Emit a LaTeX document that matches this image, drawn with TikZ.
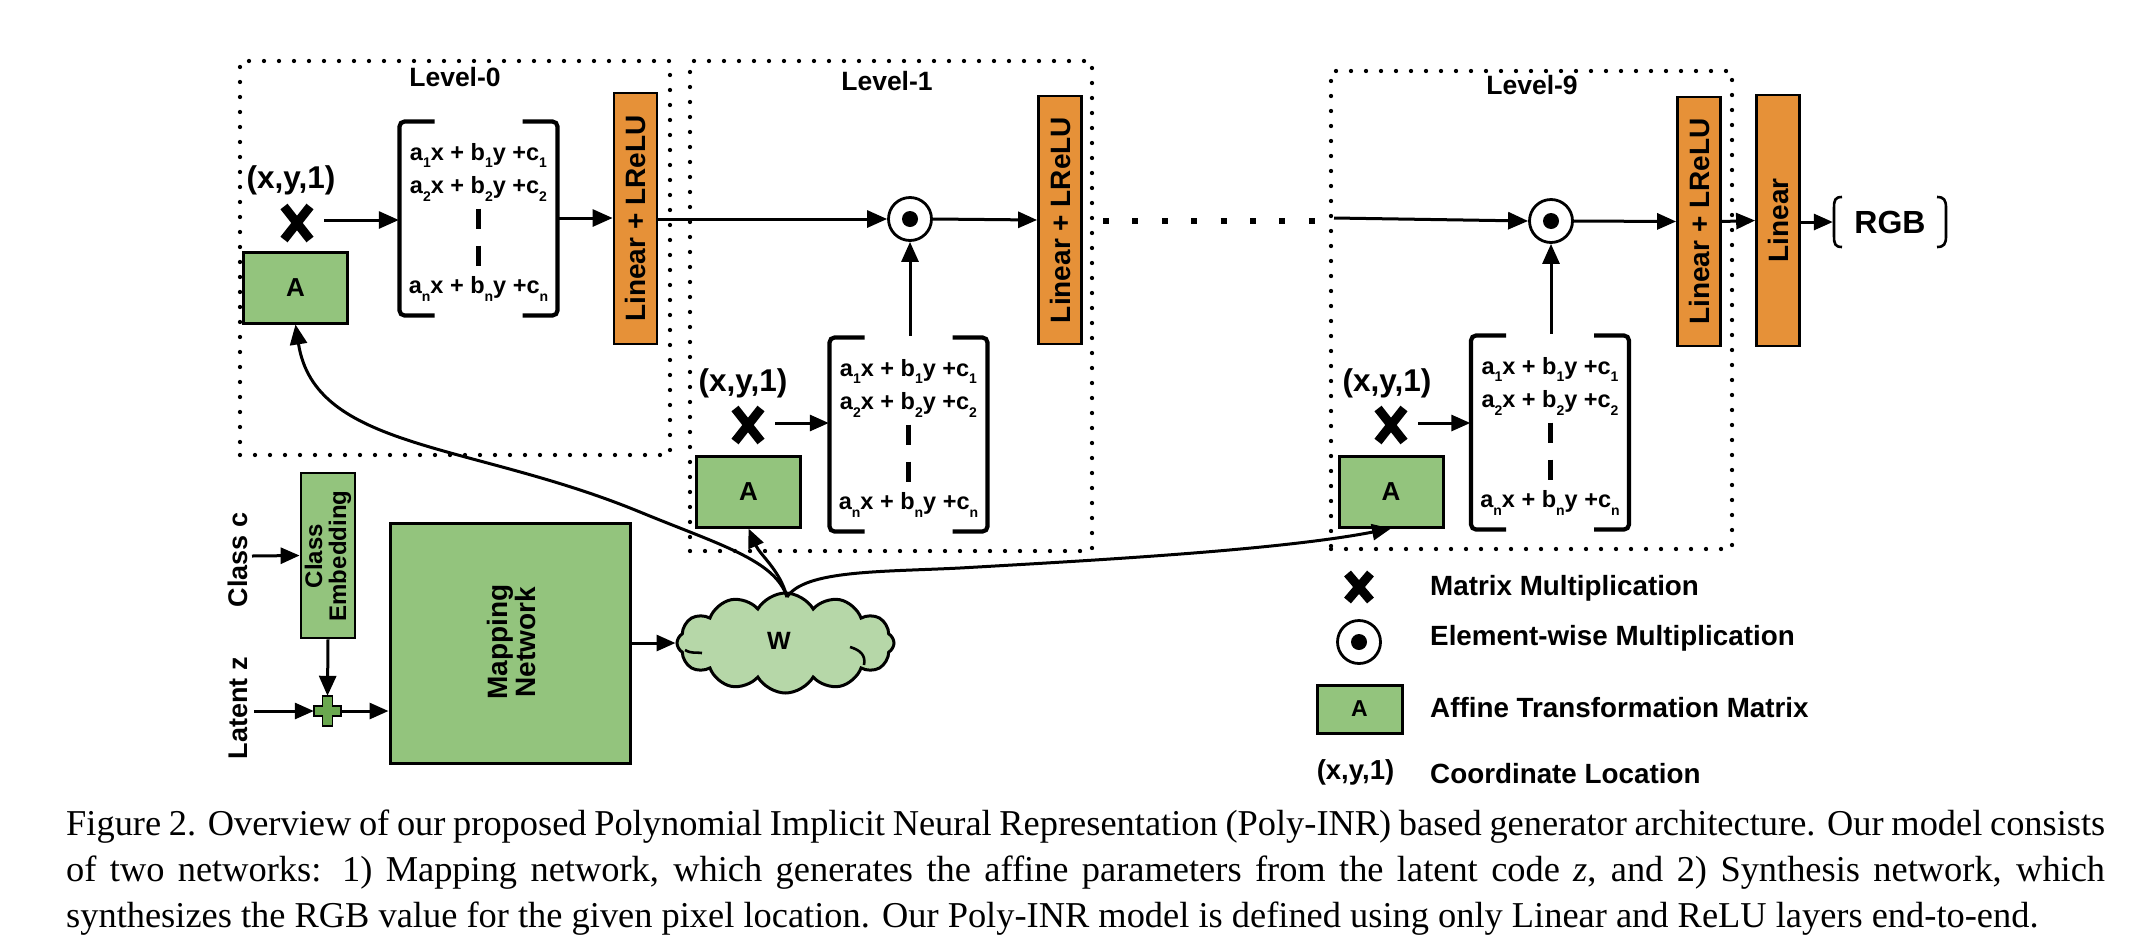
\documentclass[tikz,border=0pt]{standalone}
\usepackage{fontspec}
\setmainfont{Liberation Sans}
\newfontfamily\capfont{Liberation Serif}
\usetikzlibrary{arrows.meta,shapes.misc,shapes.symbols,calc}
\definecolor{gr}{HTML}{93C47D}
\definecolor{org}{HTML}{E69138}
\definecolor{lgr}{HTML}{B6D7A8}
\definecolor{dgr}{HTML}{6AA84F}
\newcommand\fsz[1]{\fontsize{#1}{#1}\selectfont\bfseries}
\newcommand\sbs[1]{\raisebox{-0.32em}{\fontsize{14}{14}\selectfont\bfseries #1}}
\tikzset{
  lvl/.style={draw=black,line width=4.3pt,line cap=round,dash pattern=on 0pt off 15pt,inner sep=0pt},
  lvltxt/.style={font=\fsz{26.5}},
  boxa/.style={draw=black,line width=3pt,fill=gr,font=\fsz{26},inner sep=0pt,minimum width=104pt,minimum height=71pt},
  lin/.style={draw=black,line width=2.8pt,fill=org,rotate=90,font=\fsz{28},inner sep=0pt,minimum height=43pt},
  xm/.style={cross out,draw=black,line width=9pt,inner sep=0pt,minimum width=17pt,minimum height=24pt},
  dot/.style={circle,draw=black,line width=2.8pt,fill=white,inner sep=0pt,minimum size=43pt},
  coordtxt/.style={font=\fsz{31.5}},
  matbox/.style={inner sep=0pt,minimum width=159pt,minimum height=197pt},
  mateq/.style={font=\fsz{23.5},anchor=base,inner sep=0pt},
  brk/.style={draw=black,line width=4.2pt,rounded corners=5pt},
  dsh/.style={draw=black,line width=5pt},
  arr/.style={draw=black,line width=3pt,-{Triangle[length=20pt,width=17pt]}},
  arrs/.style={draw=black,line width=3pt,-{Triangle[length=19pt,width=16pt]}},
  vtxt/.style={rotate=90,font=\fsz{27}},
  legtxt/.style={font=\fsz{27.8},anchor=base west,inner sep=0pt},
}
\newcommand\matblock[3]{%
  \node[matbox] (#1) at (#2,#3) {};
  \begin{scope}[shift={(#2,#3)}]
    \node[mateq] (#1l1) at (0,-58.5) {a\sbs{1}x + b\sbs{1}y +c\sbs{1}};
    \node[mateq] (#1l2) at (0,-25) {a\sbs{2}x + b\sbs{2}y +c\sbs{2}};
    \node[mateq] (#1ln) at (0,75) {a\sbs{n}x + b\sbs{n}y +c\sbs{n}};
    \draw[dsh] (0,-10) -- (0,10);
    \draw[dsh] (0,27) -- (0,47);
    \draw[brk] (-44,-97) -- (-79,-97) -- (-79,97) -- (-44,97);
    \draw[brk] (44,-97) -- (79,-97) -- (79,97) -- (44,97);
  \end{scope}
}
\newcommand\dotmark[2]{%
  \node[dot] (#1) at #2 {};
  \fill[black] (#1.center) circle (8pt);
}
\begin{document}
\begin{tikzpicture}[x=1pt,y=-1pt]
\useasboundingbox (0,0) rectangle (2146,951);
% dotted level frames
\node[lvl,minimum width=430pt,minimum height=394pt] (lv0) at (455,258) {};
\node[lvl,minimum width=402pt,minimum height=490pt] (lv1) at (891,306) {};
\node[lvl,minimum width=401pt,minimum height=478pt] (lv9) at (1531.5,310) {};
\node[lvltxt] (t0) at (455,77) {Level-0};
\node[lvltxt] (t1) at (887,81) {Level-1};
\node[lvltxt] (t9) at (1532,85) {Level-9};
% level 0
\node[coordtxt] (c0) at (291,180) {(x,y,1)};
\node[xm] (x0) at (297,223) {};
\node[boxa] (a0) at (295.5,287.5) {A};
\matblock{m0}{478.5}{218.5}
\node[lin,minimum width=251pt] (l0) at (635.5,218.5) {Linear + LReLU};
% level 1
\node[coordtxt] (c1) at (743,383) {(x,y,1)};
\node[xm] (x1) at (748,425) {};
\node[boxa] (a1) at (748.5,491.5) {A};
\matblock{m1}{908.5}{434.5}
\dotmark{d1}{(910,219)}
\node[lin,minimum width=248pt] (l1) at (1060,220) {Linear + LReLU};
% level 9
\node[coordtxt] (c9) at (1387,383) {(x,y,1)};
\node[xm] (x9) at (1391,425) {};
\node[boxa] (a9) at (1391,491.5) {A};
\matblock{m9}{1550}{432.5}
\dotmark{d9}{(1551,221)}
\node[lin,minimum width=249pt] (l9) at (1699,221.5) {Linear + LReLU};
\node[lin,minimum width=251pt,font=\fsz{28}] (lf) at (1778,220.5) {Linear};
% RGB
\node[font=\fsz{32},inner sep=0pt,minimum width=114pt,minimum height=50pt] (rgb) at (1890,222) {RGB};
\draw[draw=black,line width=2.6pt] (1842,197) .. controls (1835,197) and (1834,200) .. (1834,208) -- (1834,236) .. controls (1834,244) and (1835,247) .. (1842,247);
\draw[draw=black,line width=2.6pt] (1937,197) .. controls (1944,197) and (1946,200) .. (1946,208) -- (1946,236) .. controls (1946,244) and (1944,247) .. (1937,247);
% ellipsis
\coordinate (el0) at (1103,221);
\coordinate (el1) at (1320,221);
\draw[line width=6pt,dash pattern=on 6pt off 23.4pt] (el0) -- (el1);
% synthesis connectors
\draw[arr] (x0.east |- 0,220) ++(14,0) -- (m0.west |- 0,220);
\draw[arr] (m0.east |- 0,218) -- (l0.north |- 0,218);
\draw[arr] (l0.south |- 0,219) -- (d1.west);
\draw[arrs] (d1.east) -- (l1.north);
\draw[arr] (m1.north -| d1) -- (d1.south);
\draw[arrs] (x1.east |- 0,423) ++(14,0) -- (m1.west |- 0,423);
\coordinate (s9) at (1334,218);
\draw[arr] (s9) -- (d9.west);
\draw[arrs] (d9.east) -- (l9.north);
\draw[arr] (m9.north -| d9) -- (d9.south);
\draw[arrs] (x9.east |- 0,423) ++(14,0) -- (m9.west |- 0,423);
\draw[arrs] (l9.south) -- (lf.north);
\draw[arrs] (lf.south |- rgb.west) -- (rgb.west);
% mapping part
\node[draw=black,line width=2.8pt,fill=gr,minimum width=54pt,minimum height=165pt,inner sep=0pt] (ce) at (328,555.5) {};
\node[rotate=90,font=\fsz{24},align=center,inner sep=0pt] (cet) at (328,556) {\fontsize{24}{30}\selectfont\bfseries Class\\Embedding};
\node[draw=black,line width=3pt,fill=gr,minimum width=240pt,minimum height=240pt,inner sep=0pt] (mp) at (510,643) {};
\node[rotate=90,font=\fsz{28},align=center,inner sep=0pt] (mpt) at (511,642) {\fontsize{28}{35}\selectfont\bfseries Mapping\\Network};
\node[vtxt] (cc) at (238,560) {Class c};
\node[vtxt] (lz) at (238,708) {Latent z};
\node[inner sep=0pt,minimum width=27pt,minimum height=30pt] (pl) at (327.5,711) {};
\draw[draw=black,line width=1.8pt,fill=dgr] (pl.north) ++(-5,0) -- ++(10,0) -- ++(0,10) -- ++(8.5,0) -- ++(0,10) -- ++(-8.5,0) -- ++(0,10) -- ++(-10,0) -- ++(0,-10) -- ++(-8.5,0) -- ++(0,-10) -- ++(8.5,0) -- cycle;
\coordinate (cs) at (252,556);
\coordinate (ls) at (254,711);
\draw[arrs] (cs) -- (ce.west);
\draw[arrs] (ls) -- (pl.west);
\draw[arr] (ce.south) -- (pl.north);
\draw[arrs] (pl.east) -- (mp.west |- pl.east);
\node[cloud,draw=black,line width=3pt,fill=lgr,cloud puffs=12,cloud puff arc=120,aspect=2.2,minimum width=217pt,minimum height=100pt,inner sep=0pt] (w) at (785.5,643) {};
\node[font=\fontsize{25}{25}\selectfont\bfseries] (wt) at (779,641) {W};
\draw[black,line width=2.6pt] (685,650) .. controls (692,654) and (696,652) .. (702,653);
\draw[black,line width=2.6pt] (850,647) .. controls (860,650) and (866,655) .. (864,665);
\draw[arrs] (mp.east |- w.west) -- (w.west);
\coordinate (wtop) at (787,597);
\draw[arr] (wtop) .. controls (775,560) and (720,545) .. (640,512) .. controls (470,442) and (315,450) .. (a0.south);
\draw[arrs] (wtop) .. controls (780,570) and (760,555) .. (a1.south);
\draw[arrs] (wtop) .. controls (805,570) and (880,572) .. (960,568) .. controls (1100,560) and (1280,550) .. (a9.south);
% legend
\node[xm,minimum width=14pt,minimum height=18pt] (lx) at (1359,587) {};
\dotmark{ld}{(1359,642)}
\node[boxa,minimum width=85pt,minimum height=48pt,font=\fsz{23}] (la) at (1359.5,709) {A};
\node[font=\fsz{27.5}] (lc) at (1355.5,772) {(x,y,1)};
\node[legtxt] (lt1) at (1430,595) {Matrix Multiplication};
\node[legtxt] (lt2) at (1430,645) {Element-wise Multiplication};
\node[legtxt] (lt3) at (1430,717) {Affine Transformation Matrix};
\node[legtxt] (lt4) at (1430,783) {Coordinate Location};
% caption
\node[anchor=north west,inner sep=0pt,align=left,font=\capfont\fontsize{36.4}{46}\selectfont] (cap) at (66,810) {%
\makebox[2039pt][s]{Figure 2. Overview of our proposed Polynomial Implicit Neural Representation (Poly-INR) based generator architecture. Our model consists}\\
\makebox[2039pt][s]{of two networks: 1) Mapping network, which generates the affine parameters from the latent code \textit{z}, and 2) Synthesis network, which}\\
synthesizes the RGB value for the given pixel location. Our Poly-INR model is defined using only Linear and ReLU layers end-to-end.};
\end{tikzpicture}
\end{document}
